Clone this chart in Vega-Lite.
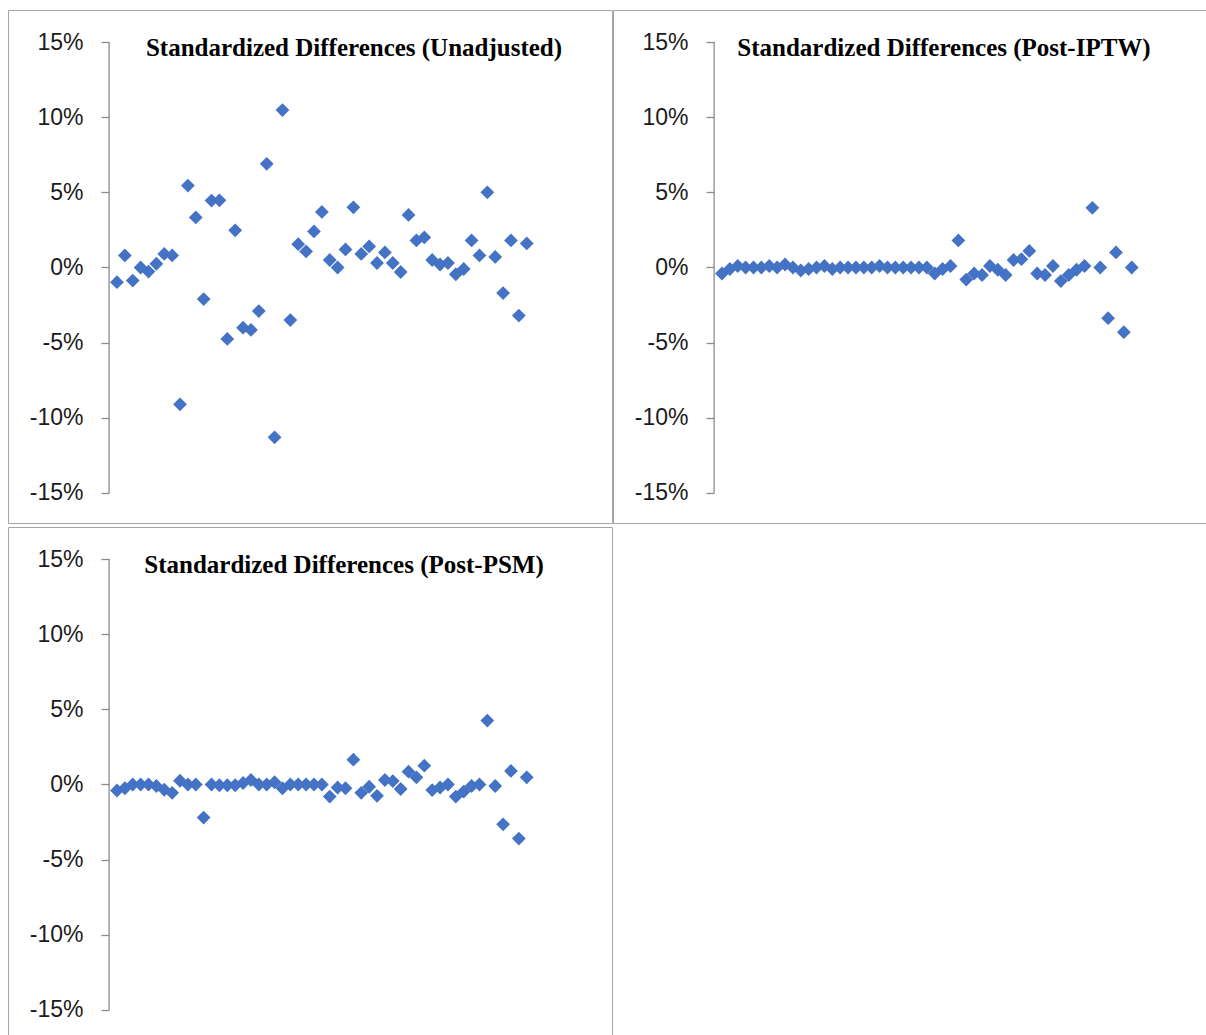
{
  "$schema": "https://vega.github.io/schema/vega-lite/v6.json",
  "padding": {"left": 7, "top": 9, "right": 0, "bottom": 0},
  "autosize": {"type": "pad"},
  "background": "white",
  "config": {
    "view": {"stroke": "#a6a6a6", "strokeWidth": 1},
    "axis": {"grid": false},
    "axisY": {"offset": -101, "domain": false, "ticks": true, "tickSize": 8, "tickColor": "#8c8c8c", "tickWidth": 1.3, "labelFont": "Liberation Sans", "labelFontSize": 23, "labelColor": "#1a1a1a", "labelPadding": 18, "title": null, "grid": false},
    "title": {"font": "Liberation Serif", "fontSize": 25, "fontWeight": "bold", "color": "#000000", "anchor": "middle", "orient": "top", "baseline": "alphabetic", "offset": 0, "dy": 55}
  },
  "datasets": {
    "unadj": [
      {"i":1,"v":-0.0098},{"i":2,"v":0.0080},{"i":3,"v":-0.0087},{"i":4,"v":0.0000},{"i":5,"v":-0.0027},
      {"i":6,"v":0.0025},{"i":7,"v":0.0090},{"i":8,"v":0.0080},{"i":9,"v":-0.0910},{"i":10,"v":0.0545},
      {"i":11,"v":0.0333},{"i":12,"v":-0.0210},{"i":13,"v":0.0445},{"i":14,"v":0.0447},{"i":15,"v":-0.0475},
      {"i":16,"v":0.0247},{"i":17,"v":-0.0400},{"i":18,"v":-0.0415},{"i":19,"v":-0.0290},{"i":20,"v":0.0690},
      {"i":21,"v":-0.1130},{"i":22,"v":0.1047},{"i":23,"v":-0.0350},{"i":24,"v":0.0155},{"i":25,"v":0.0107},
      {"i":26,"v":0.0240},{"i":27,"v":0.0370},{"i":28,"v":0.0050},{"i":29,"v":0.0000},{"i":30,"v":0.0120},
      {"i":31,"v":0.0400},{"i":32,"v":0.0090},{"i":33,"v":0.0140},{"i":34,"v":0.0030},{"i":35,"v":0.0100},
      {"i":36,"v":0.0030},{"i":37,"v":-0.0030},{"i":38,"v":0.0350},{"i":39,"v":0.0180},{"i":40,"v":0.0200},
      {"i":41,"v":0.0050},{"i":42,"v":0.0020},{"i":43,"v":0.0030},{"i":44,"v":-0.0045},{"i":45,"v":-0.0010},
      {"i":46,"v":0.0180},{"i":47,"v":0.0080},{"i":48,"v":0.0500},{"i":49,"v":0.0070},{"i":50,"v":-0.0170},
      {"i":51,"v":0.0180},{"i":52,"v":-0.0320},{"i":53,"v":0.0160}
    ],
    "iptw": [
      {"i":1,"v":-0.0040},{"i":2,"v":-0.0010},{"i":3,"v":0.0010},{"i":4,"v":0.0000},{"i":5,"v":0.0000},
      {"i":6,"v":0.0000},{"i":7,"v":0.0010},{"i":8,"v":0.0000},{"i":9,"v":0.0020},{"i":10,"v":0.0000},
      {"i":11,"v":-0.0020},{"i":12,"v":-0.0010},{"i":13,"v":0.0000},{"i":14,"v":0.0010},{"i":15,"v":-0.0010},
      {"i":16,"v":0.0000},{"i":17,"v":0.0000},{"i":18,"v":0.0000},{"i":19,"v":0.0000},{"i":20,"v":0.0000},
      {"i":21,"v":0.0010},{"i":22,"v":0.0000},{"i":23,"v":0.0000},{"i":24,"v":0.0000},{"i":25,"v":0.0000},
      {"i":26,"v":0.0000},{"i":27,"v":0.0000},{"i":28,"v":-0.0040},{"i":29,"v":-0.0010},{"i":30,"v":0.0010},
      {"i":31,"v":0.0180},{"i":32,"v":-0.0080},{"i":33,"v":-0.0040},{"i":34,"v":-0.0050},{"i":35,"v":0.0010},
      {"i":36,"v":-0.0015},{"i":37,"v":-0.0050},{"i":38,"v":0.0050},{"i":39,"v":0.0055},{"i":40,"v":0.0110},
      {"i":41,"v":-0.0040},{"i":42,"v":-0.0050},{"i":43,"v":0.0010},{"i":44,"v":-0.0090},{"i":45,"v":-0.0050},
      {"i":46,"v":-0.0015},{"i":47,"v":0.0010},{"i":48,"v":0.0397},{"i":49,"v":0.0000},{"i":50,"v":-0.0337},
      {"i":51,"v":0.0100},{"i":52,"v":-0.0430},{"i":53,"v":0.0000}
    ],
    "psm": [
      {"i":1,"v":-0.0040},{"i":2,"v":-0.0025},{"i":3,"v":0.0000},{"i":4,"v":0.0000},{"i":5,"v":0.0000},
      {"i":6,"v":-0.0010},{"i":7,"v":-0.0035},{"i":8,"v":-0.0055},{"i":9,"v":0.0025},{"i":10,"v":0.0000},
      {"i":11,"v":0.0000},{"i":12,"v":-0.0220},{"i":13,"v":0.0000},{"i":14,"v":-0.0005},{"i":15,"v":-0.0005},
      {"i":16,"v":-0.0005},{"i":17,"v":0.0010},{"i":18,"v":0.0030},{"i":19,"v":0.0000},{"i":20,"v":0.0000},
      {"i":21,"v":0.0015},{"i":22,"v":-0.0025},{"i":23,"v":0.0000},{"i":24,"v":0.0000},{"i":25,"v":0.0000},
      {"i":26,"v":0.0000},{"i":27,"v":0.0000},{"i":28,"v":-0.0080},{"i":29,"v":-0.0020},{"i":30,"v":-0.0025},
      {"i":31,"v":0.0165},{"i":32,"v":-0.0055},{"i":33,"v":-0.0015},{"i":34,"v":-0.0075},{"i":35,"v":0.0030},
      {"i":36,"v":0.0023},{"i":37,"v":-0.0030},{"i":38,"v":0.0085},{"i":39,"v":0.0048},{"i":40,"v":0.0125},
      {"i":41,"v":-0.0037},{"i":42,"v":-0.0020},{"i":43,"v":0.0000},{"i":44,"v":-0.0080},{"i":45,"v":-0.0047},
      {"i":46,"v":-0.0010},{"i":47,"v":0.0000},{"i":48,"v":0.0425},{"i":49,"v":-0.0010},{"i":50,"v":-0.0265},
      {"i":51,"v":0.0090},{"i":52,"v":-0.0360},{"i":53,"v":0.0048}
    ],
    "axisline": [{"x":0,"y":-0.15,"y2":0.15}]
  },
  "columns": 2,
  "spacing": {"row": 2, "column": -1},
  "concat": [
    {
      "width": 604, "height": 513,
      "title": {"text": "Standardized Differences (Unadjusted)", "dx": 44},
      "layer": [
        {
          "data": {"name": "axisline"},
          "mark": {"type": "rule", "color": "#8c8c8c", "strokeWidth": 1.3},
          "encoding": {
            "x": {"field": "x", "type": "quantitative", "scale": {"domain": [-12.83, 63.82], "nice": false, "zero": false}, "axis": null},
            "y": {"field": "y", "type": "quantitative", "scale": {"domain": [-0.16996, 0.17129], "nice": false, "zero": false},
              "axis": {"values": [-0.15,-0.1,-0.05,0,0.05,0.1,0.15], "labelExpr": "round(datum.value*100) + '%'"}},
            "y2": {"field": "y2"}
          }
        },
        {
          "data": {"name": "unadj"},
          "mark": {"type": "point", "shape": "diamond", "filled": true, "size": 190, "color": "#4472C4", "opacity": 1},
          "encoding": {
            "x": {"field": "i", "type": "quantitative", "axis": null},
            "y": {"field": "v", "type": "quantitative", "axis": {"values": [-0.15,-0.1,-0.05,0,0.05,0.1,0.15], "labelExpr": "round(datum.value*100) + '%'"}}
          }
        }
      ]
    },
    {
      "width": 594, "height": 513,
      "title": {"text": "Standardized Differences (Post-IPTW)", "dx": 34},
      "layer": [
        {
          "data": {"name": "axisline"},
          "mark": {"type": "rule", "color": "#8c8c8c", "strokeWidth": 1.3},
          "encoding": {
            "x": {"field": "x", "type": "quantitative", "scale": {"domain": [-12.83, 62.55], "nice": false, "zero": false}, "axis": null},
            "y": {"field": "y", "type": "quantitative", "scale": {"domain": [-0.16996, 0.17129], "nice": false, "zero": false},
              "axis": {"values": [-0.15,-0.1,-0.05,0,0.05,0.1,0.15], "labelExpr": "round(datum.value*100) + '%'"}},
            "y2": {"field": "y2"}
          }
        },
        {
          "data": {"name": "iptw"},
          "mark": {"type": "point", "shape": "diamond", "filled": true, "size": 190, "color": "#4472C4", "opacity": 1},
          "encoding": {
            "x": {"field": "i", "type": "quantitative", "axis": null},
            "y": {"field": "v", "type": "quantitative", "axis": {"values": [-0.15,-0.1,-0.05,0,0.05,0.1,0.15], "labelExpr": "round(datum.value*100) + '%'"}}
          }
        }
      ]
    },
    {
      "width": 604, "height": 513,
      "title": {"text": "Standardized Differences (Post-PSM)", "dx": 34},
      "layer": [
        {
          "data": {"name": "axisline"},
          "mark": {"type": "rule", "color": "#8c8c8c", "strokeWidth": 1.3},
          "encoding": {
            "x": {"field": "x", "type": "quantitative", "scale": {"domain": [-12.83, 63.82], "nice": false, "zero": false}, "axis": null},
            "y": {"field": "y", "type": "quantitative", "scale": {"domain": [-0.16996, 0.17129], "nice": false, "zero": false},
              "axis": {"values": [-0.15,-0.1,-0.05,0,0.05,0.1,0.15], "labelExpr": "round(datum.value*100) + '%'"}},
            "y2": {"field": "y2"}
          }
        },
        {
          "data": {"name": "psm"},
          "mark": {"type": "point", "shape": "diamond", "filled": true, "size": 190, "color": "#4472C4", "opacity": 1},
          "encoding": {
            "x": {"field": "i", "type": "quantitative", "axis": null},
            "y": {"field": "v", "type": "quantitative", "axis": {"values": [-0.15,-0.1,-0.05,0,0.05,0.1,0.15], "labelExpr": "round(datum.value*100) + '%'"}}
          }
        }
      ]
    }
  ]
}
